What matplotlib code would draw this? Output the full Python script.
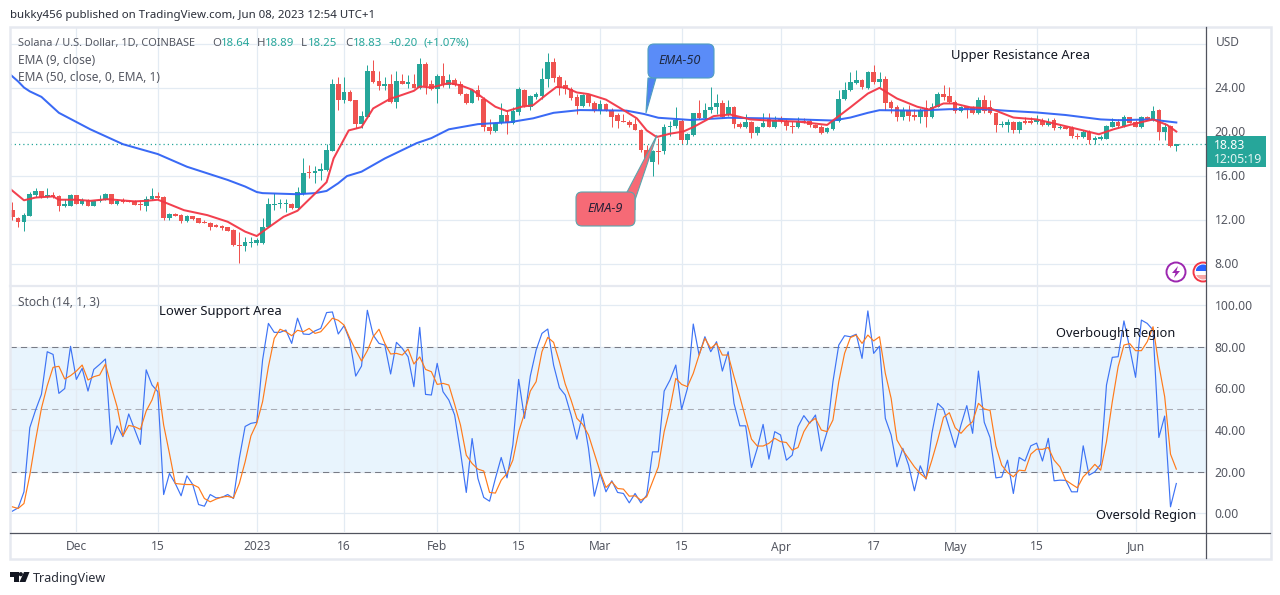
import matplotlib
matplotlib.use('Agg')
import matplotlib.pyplot as plt
from matplotlib.patches import FancyBboxPatch, Polygon, Circle, Rectangle

plt.rcParams['font.family'] = ['Noto Sans', 'DejaVu Sans']

# candles, one per day from 20 Nov 2022 (day 0) to 8 Jun 2023 (day 200)
opens = [12.85,12.18,11.8,12.33,14.2,14.55,14.05,14.2,14.1,13.2,
         13.25,14.2,13.4,13.75,13.25,13.65,13.8,14.3,13.4,13.75,
         13.7,13.7,13.45,13.2,13.9,14.15,14.05,12.1,12.5,12.4,
         11.85,12.3,12.1,11.75,11.7,11.5,11.4,11.3,11.05,9.7,
         9.6,9.9,9.85,9.85,11.3,13.35,13.4,13.4,13.45,13.05,
         14.3,16.25,16.2,16.4,16.5,18.25,24.3,22.85,23.55,22.85,
         20.65,21.35,25.5,24.55,24.15,24.35,22.7,24.55,24.35,24.35,
         23.95,26.1,24.36,23.85,25.03,24.2,24.67,24.3,23.45,22.6,
         23.8,23.0,20.45,20.05,20.75,21.5,20.75,21.8,23.8,22.2,
         23.1,23.2,24.75,26.3,25.0,24.2,23.9,23.1,22.3,23.3,
         22.6,21.85,22.5,22.0,21.5,21.0,20.9,20.65,20.15,18.35,
         17.2,18.2,18.2,20.4,20.5,21.0,19.2,19.7,21.65,21.2,
         21.95,22.2,22.55,21.5,22.2,20.7,20.4,20.9,19.85,20.45,
         21.1,20.45,21.15,21.0,20.5,20.42,21.0,20.95,20.6,20.4,
         19.95,20.25,20.95,23.0,23.75,24.45,24.7,24.0,25.4,24.5,
         24.8,22.65,22.25,21.3,21.95,21.5,21.35,22.1,21.3,22.25,
         23.4,23.2,22.7,21.85,22.25,22.25,21.65,22.85,22.25,21.65,
         20.55,20.55,20.9,20.15,21.0,21.0,20.85,21.0,20.6,21.05,
         20.35,20.4,20.3,19.6,19.5,20.0,19.25,19.35,19.35,20.45,
         20.9,20.5,21.3,20.85,20.4,21.3,21.1,21.95,20.0,20.5,
         18.64]
closes = [12.2,11.76,12.4,14.3,14.55,14.05,14.2,14.05,13.25,13.4,
          14.2,13.4,13.75,13.25,13.65,13.8,14.3,13.4,13.65,13.55,
          13.6,13.3,13.3,13.9,14.15,14.0,12.1,12.5,12.35,11.85,
          12.3,12.05,11.7,11.7,11.35,11.35,11.25,11.0,9.65,9.6,
          9.95,10.0,10.1,11.3,13.4,13.45,13.45,13.5,13.05,14.5,
          16.2,16.2,16.4,16.6,18.3,24.3,22.9,23.55,22.8,20.65,
          21.4,25.5,24.5,24.15,24.35,22.7,24.55,24.35,24.5,23.95,
          26.1,24.15,23.9,25.03,24.36,24.67,24.2,23.4,22.6,23.75,
          23.15,20.42,20.05,20.8,21.5,20.75,21.85,23.85,22.3,23.2,
          23.45,24.8,26.3,24.9,24.0,23.9,23.05,22.3,23.3,22.55,
          21.85,22.5,22.0,21.3,20.95,20.9,20.55,20.15,18.3,17.4,
          18.25,18.15,20.4,20.5,21.05,19.2,19.75,21.65,21.2,21.95,
          22.25,22.6,21.35,22.2,20.65,20.45,20.9,19.85,20.42,20.8,
          20.45,21.05,21.0,20.5,20.4,20.85,20.9,20.6,20.35,19.9,
          20.3,20.95,23.0,23.8,24.5,24.7,24.05,25.4,24.5,24.8,
          22.6,22.1,21.3,21.95,21.45,21.35,21.95,21.3,22.25,23.4,
          23.15,22.65,21.85,22.25,22.05,21.65,22.85,21.85,21.65,20.55,
          20.65,20.9,20.15,20.9,20.8,20.8,21.05,20.6,20.9,20.3,
          20.42,20.25,19.55,19.5,20.0,19.2,19.4,19.5,20.5,20.85,
          20.5,21.3,20.8,20.45,21.3,21.1,21.85,20.0,20.4,18.65,
          18.83]
highs = [13.6,12.24,12.55,14.5,14.9,14.55,14.9,14.5,14.2,13.9,
         14.3,14.2,14.0,13.9,13.8,14.2,14.4,14.3,13.9,14.0,
         13.8,13.8,13.8,14.1,14.9,14.5,14.1,12.6,12.55,12.5,
         12.4,12.35,12.15,12.0,11.75,11.55,11.5,11.35,11.1,10.9,
         10.4,10.4,10.3,12.1,14.0,14.4,13.85,13.9,13.5,15.0,
         17.6,17.0,16.9,17.1,18.85,24.75,25.0,25.0,23.8,22.9,
         21.85,26.05,26.5,25.5,25.0,25.2,25.5,25.25,25.1,25.2,
         26.7,26.3,24.7,25.27,26.2,25.27,24.9,24.6,23.5,23.85,
         24.2,23.1,21.18,20.85,22.6,22.0,22.2,24.05,23.9,23.3,
         23.6,25.75,27.1,26.65,25.1,24.67,24.05,23.45,23.45,23.45,
         22.75,22.85,22.6,22.1,21.7,21.6,21.05,21.2,20.2,18.75,
         18.35,19.4,20.65,21.0,22.2,21.1,19.9,21.7,22.9,22.55,
         24.05,23.4,22.9,22.9,22.3,20.9,21.6,21.0,20.5,21.65,
         21.65,21.4,21.4,21.1,21.0,21.3,21.2,21.1,20.7,20.55,
         20.4,21.0,23.75,24.5,25.4,25.55,24.8,25.5,26.05,25.4,
         25.05,22.9,22.4,22.25,22.4,22.05,22.1,22.9,22.6,23.6,
         24.2,24.05,22.9,22.35,22.3,22.3,23.15,23.3,22.85,21.7,
         21.0,21.1,20.95,21.0,21.3,21.3,21.5,21.2,21.2,21.2,
         20.6,20.5,20.5,19.9,20.1,20.1,19.55,19.65,20.6,21.2,
         21.1,21.5,21.35,21.05,21.4,21.4,22.3,22.05,20.75,20.6,
         18.89]
lows = [12.0,11.33,11.0,12.3,14.05,14.0,14.0,14.0,12.8,13.15,
        13.2,13.4,13.3,13.2,13.2,13.6,13.75,13.4,13.3,13.5,
        13.55,13.3,12.9,12.75,13.8,13.85,12.0,12.0,12.3,11.7,
        11.8,12.0,11.65,11.65,11.05,11.3,11.05,10.95,9.55,8.05,
        9.1,9.5,9.7,9.8,11.3,12.9,13.05,12.7,13.0,13.0,
        14.2,15.8,15.35,15.55,16.4,18.2,21.95,22.6,22.75,20.3,
        20.35,21.3,24.4,23.8,23.8,22.6,22.1,24.3,24.0,23.95,
        23.9,23.4,23.8,22.6,24.05,24.0,24.1,23.3,22.5,22.55,
        22.85,20.05,19.75,20.0,20.7,19.75,20.7,21.5,22.2,22.0,
        23.0,23.0,24.05,24.5,23.3,23.45,22.85,21.6,22.2,22.3,
        21.75,21.6,21.9,20.42,20.3,20.85,20.45,20.1,18.1,17.3,
        16.0,17.05,17.95,19.6,20.3,18.85,18.9,19.6,21.1,21.15,
        21.7,21.6,21.2,21.4,20.3,20.3,20.3,19.4,19.7,20.4,
        20.4,20.3,20.8,20.1,19.9,20.3,20.8,20.45,20.3,19.8,
        19.9,20.1,20.9,22.9,23.7,24.3,23.9,23.85,24.3,24.05,
        22.0,21.65,21.0,21.05,21.0,21.05,20.75,20.4,21.25,22.2,
        22.85,22.6,21.65,21.75,21.2,21.6,21.6,21.65,21.6,20.0,
        20.4,19.95,19.85,19.85,20.7,20.7,20.65,20.5,20.5,20.15,
        20.2,20.2,19.45,19.3,19.4,18.85,18.85,19.2,19.3,20.4,
        20.35,20.45,20.75,20.4,20.3,21.05,21.0,19.2,19.2,18.6,
        18.25]

# moving averages at the days listed
ema50_days = [-0.4,1,2,3,5,8,13.4,19,25,30,37,40,42,43,49,52,54,56,57.5,60,64,69.5,72,75,80,85.5,89.5,93,97.5,105.5,
              108.5,111,116.5,123,129,135,141,144,147,149,155.5,161,167,171,176,181,187,190,195.5,200]
ema50 = [25.2,24.55,24.0,23.65,23.15,21.7,20.2,18.85,17.95,16.8,15.6,15.0,14.5,14.4,14.3,14.4,14.6,15.3,15.95,16.35,17.55,18.95,19.4,20.2,20.67,20.85,21.2,21.7,21.95,21.9,
         21.6,21.25,21.05,21.25,21.2,21.1,21.0,21.27,21.7,21.94,21.9,22.03,22.03,21.88,21.73,21.5,21.1,21.03,21.1,20.82]
ema9_days = [-0.4,2,4,7,8,11,13.4,16.3,21,23,25,26,29.5,33.5,37,40,42,43,46.6,49,52,54,55.2,57.8,60,62,65,66,69,70,
             72,75,77,79,81,83,85,87.5,89.5,92,93.5,95,97,99,102,105,107.3,109,110.7,113,115.3,117,120.5,123.3,126.8,130,135,140,141,
             144,147,149,152,155.5,157.5,160,161.8,164.6,168,172,176,179.5,184,186.7,189.2,192,196,198.4,200]
ema9 = [14.8,13.75,14.0,14.1,13.8,13.8,13.7,13.85,13.65,13.7,13.8,13.6,12.85,12.4,11.8,10.9,10.5,10.9,12.25,12.8,14.35,15.4,17.55,20.1,20.4,22.1,23.0,23.15,23.7,24.1,
        24.0,24.4,24.2,23.8,23.0,22.25,21.85,22.25,22.4,23.45,24.05,24.0,23.55,23.4,22.9,21.95,21.2,20.1,19.5,19.8,20.0,20.4,21.4,21.55,21.1,21.0,20.9,20.6,21.0,
        22.2,23.45,23.97,23.0,22.25,22.0,22.55,22.55,22.2,22.1,21.27,21.1,20.67,20.1,19.75,20.2,20.6,21.1,20.6,20.0]

# stochastic %K and %D, one value per day
stoch_k = [1.1,2.7,10.4,41.2,49.7,57.2,77.7,76.4,57.7,60,
           80.3,64.4,69.7,58.8,69.2,71.6,74.2,33.2,42.1,36.9,
           47.8,40.5,33.2,69,61.7,58.5,9.1,19.2,14.4,8.5,
           18.1,13.9,4.3,3.5,9.1,7.5,7.7,9.1,7.2,26.4,
           41.8,43.3,43.8,73.7,91.3,87,87,88.1,81.7,93.8,
           86.2,86,87.7,88.9,96.5,96.8,86.2,90.2,83,66,
           70.8,97.6,85.7,81.7,80.9,67,82.2,79.3,75.3,60.9,
           89.4,57.2,56.9,72.1,58.5,54.5,47.3,29.6,10.1,36,
           16.8,7.7,5.9,16.8,26.9,17.1,32.9,64.4,45.7,66,
           78.5,86.5,88.6,71.3,60.4,56.9,47.3,35.7,47.8,31.3,
           8.3,19.2,10.4,15.7,10.1,9.6,5.1,9.6,5.1,8.8,
           29.6,29.6,58.8,64.1,71.3,50,60.1,91,76.1,84.9,
           77.7,82.5,68.4,77.7,52.9,42.1,42.1,22.1,31.3,42.8,
           26.1,39.3,37.7,25.6,28,41.7,47,43.3,47.3,30,
           39.3,63.3,80.9,85.4,84.9,86.1,74.5,97.3,76.9,80.4,
           45.7,37.7,22.4,31.3,23.2,10.9,22.9,16.5,38.5,52.9,
           50.2,40.9,31.7,42.5,51.8,38.5,68.4,43.8,36.4,17.1,
           17.5,25.6,9.6,26.9,25.2,32.5,33.8,25.2,36.1,15.7,
           16,15.9,10.4,10.4,32.5,18.4,20,23.6,61.7,75,
           75.3,92.5,79.3,65.4,92.9,91.3,88.1,36.5,46.8,3.2,
           14.4]
stoch_d = [3.2,2.4,4.8,18.4,35.3,50.5,61.4,70.2,70.7,64.6,
           66.2,68.4,71.3,64.1,65.7,66.5,71.8,60.9,51.3,37.3,
           42.3,41.7,40.4,49.2,54.5,63,42.5,28.8,14.4,14.1,
           13.9,13.9,12.5,7.2,5.6,6.9,7.9,8.2,7.5,14.4,
           24.8,37.3,43.3,53.7,70.5,84.1,88.5,87.3,85.4,88,
           87.3,88.9,86.5,87.3,90.5,93.8,92.8,90.5,84.1,78.5,
           73.2,78.2,84.9,88.5,81.7,76.6,76.9,76.1,79,71.8,
           75.2,69.2,68.1,62,62.5,61.7,52.4,42.5,28,24,
           21.3,20.4,10.1,9.8,16,19.2,25.6,39.3,48,58.8,
           63.3,77.7,84.6,82.2,72.9,62.2,54.5,45.7,42.8,37.7,
           28.8,20,12.5,15.2,12,11.7,8.3,8.5,6.4,8,
           15.2,22.4,39.3,50.5,64.9,62,60.9,67.3,76.1,84.1,
           79.3,81.7,76.1,76.1,65.7,56.1,45.7,35.7,32.4,32.4,
           33.7,36.1,34.5,34.1,30.4,31.7,39.3,43.8,45.7,40.1,
           39.3,44.9,63.3,76.9,84.5,85.7,81.7,85.7,82.9,84.9,
           67.3,55.3,35.3,30.4,26.4,22.4,19.2,16.8,25.6,35.3,
           46.2,48.4,41.2,38.5,41.7,44.1,52.9,50.2,49.5,32.4,
           23.2,19.7,17.6,20.8,20.5,28.5,30.9,30.8,31.7,25.6,
           22.4,16,14.1,12.3,17.6,20.4,23.6,20.8,34.5,53.7,
           70.5,80.9,81.6,78.2,78.2,82.5,89.7,71.3,56.1,28.5,
           21.3]

tick_days = [11, 25, 42, 57, 73, 87, 101, 115, 132, 148, 162, 176, 193]
tick_labels = ['Dec', '15', '2023', '16', 'Feb', '15', 'Mar', '15', 'Apr', '17', 'May', '15', 'Jun']
price_ticks = [8, 12, 16, 20, 24, 28]
price_labels = ['8.00', '12.00', '16.00', '20.00', '24.00']
stoch_ticks = [0, 20, 40, 60, 80, 100]
stoch_labels = ['0.00', '20.00', '40.00', '60.00', '80.00', '100.00']
last_close = 18.83

GREEN = '#26a69a'
RED = '#ef5350'
GRID = '#e3ebf3'
FRAME = '#e6e9f0'
TEXT = '#555862'

fig = plt.figure(figsize=(12.8, 5.95), dpi=100)
W, H = 1280.0, 595.0


def make_axes(x0, y0, x1, y1):
    a = fig.add_axes([x0 / W, 1 - y1 / H, (x1 - x0) / W, (y1 - y0) / H])
    for s in a.spines.values():
        s.set_visible(False)
    a.set_xticks([])
    a.set_yticks([])
    return a


# day 0 sits at pixel 12.3 and a day is 5.82 px wide
xlim = (-0.4, 205.1)

ax = make_axes(10, 27, 1206, 285)
ax.set_xlim(xlim)
ax.set_ylim(6.05, 29.5)
for t in tick_days:
    ax.axvline(t, color=GRID, lw=0.9, zorder=1)
for t in price_ticks:
    ax.axhline(t, color=GRID, lw=0.9, zorder=1)

days = list(range(len(opens)))
colors = [GREEN if c >= o else RED for o, c in zip(opens, closes)]
ax.vlines(days, lows, highs, colors=colors, lw=0.72, zorder=2)
bottoms = [min(o, c) for o, c in zip(opens, closes)]
heights = [max(abs(c - o), 0.08) for o, c in zip(opens, closes)]
ax.bar(days, heights, bottom=bottoms, width=0.8, color=colors, lw=0, zorder=3)
ax.plot(ema50_days, ema50, color='#2f62f5', lw=1.45, alpha=0.95, zorder=4)
ax.plot(ema9_days, ema9, color='#f23645', lw=1.45, alpha=0.95, zorder=5)
ax.axhline(last_close, color=GREEN, lw=0.9, ls=(0, (1, 2.4)), zorder=2)

ax2 = make_axes(10, 285, 1206, 532)
ax2.set_xlim(xlim)
ax2.set_ylim(-8.9, 109.75)
ax2.axhspan(20, 80, color='#2196f3', alpha=0.1, lw=0, zorder=0)
for t in tick_days:
    ax2.axvline(t, color=GRID, lw=0.9, zorder=1)
for t in stoch_ticks:
    ax2.axhline(t, color=GRID, lw=0.9, zorder=1)
ax2.axhline(80, color='#787b86', lw=0.75, ls=(0, (6, 4)), zorder=2)
ax2.axhline(50, color='#a9acb5', lw=0.75, ls=(0, (6, 4)), zorder=2)
ax2.axhline(20, color='#787b86', lw=0.75, ls=(0, (6, 4)), zorder=2)
ax2.plot(days, stoch_k, color='#3d73f5', lw=0.85, zorder=3)
ax2.plot(days, stoch_d, color='#ff7a1a', lw=0.85, zorder=4)

# everything else is laid out in picture pixels on a transparent overlay
ov = fig.add_axes([0, 0, 1, 1], facecolor='none', zorder=10)
ov.set_xlim(0, W)
ov.set_ylim(H, 0)
ov.axis('off')

# frame and scale lines
ov.add_patch(Rectangle((9.5, 26.5), 1261, 532.5, fill=False, ec=FRAME, lw=1.8))
ov.plot([10, 1270], [285.5, 285.5], color=FRAME, lw=1.6)
ov.plot([10, 1270], [532.7, 532.7], color='#50535e', lw=0.9)
ov.plot([1206.3, 1206.3], [27, 558], color='#50535e', lw=0.9)


def label(x, y, s, color=TEXT, size=8.6, **kw):
    kw.setdefault('ha', 'left')
    ov.text(x, y + 1.2, s, color=color, fontsize=size, va='center', **kw)


label(10, 14, 'bukky456 published on TradingView.com, Jun 08, 2023 12:54 UTC+1', color='#2a2e39', size=8.25)
label(18, 42, 'Solana / U.S. Dollar, 1D, COINBASE', size=7.9)
for x, s, c in [(212, 'O', TEXT), (221, '18.64', GREEN), (257, 'H', TEXT), (265, '18.89', GREEN),
                (301, 'L', TEXT), (308, '18.25', GREEN), (345, 'C', TEXT), (353, '18.83', GREEN),
                (388, '+0.20', GREEN), (423, '(+1.07%)', GREEN)]:
    label(x, 42, s, color=c, size=8.2)
label(18, 59, 'EMA (9, close)')
label(18, 76, 'EMA (50, close, 0, EMA, 1)')
label(18, 301, 'Stoch (14, 1, 3)')

label(951, 54, 'Upper Resistance Area', color='#131722', size=9.4)
label(159, 310, 'Lower Support Area', color='#131722', size=9.4)
label(1056, 332, 'Overbought Region', color='#131722', size=9.25)
label(1096, 514, 'Oversold Region', color='#131722', size=9.25)

# right scale
label(1216, 41, 'USD')
for t, s in zip(price_ticks, price_labels):
    label(1214.5, 87.5 + (24 - t) * 11, s, size=8.8)
for t, s in zip(stoch_ticks, stoch_labels):
    label(1214.5, 513.5 - t * 2.083, s, size=8.8)

# last price tag
ov.add_patch(Rectangle((1206, 136), 60, 31, fc=GREEN, ec='none'))
label(1214, 144.5, '18.83', color='white', size=8.8, fontweight='bold')
label(1214, 158, '12:05:19', color='#e4f5f3', size=8.8)

# x labels
for t, s in zip(tick_days, tick_labels):
    ov.text(12.3 + 5.82 * t, 547, s, color=TEXT, fontsize=8.6, ha='center', va='center',
            fontweight='bold' if s == '2023' else 'normal')

# callouts
ov.add_patch(Polygon([(648, 78), (646, 113), (656, 78)], fc='#4f82f2', ec='#4f9ec0', lw=0.8, zorder=3))
ov.add_patch(FancyBboxPatch((652, 48), 58, 26, boxstyle='round,pad=4,rounding_size=6',
                            fc='#5a8cf8', ec='#4f9ec0', lw=0.8, zorder=4))
ov.text(680, 60.5, 'EMA-50', color='#1f2a44', fontsize=9.2, style='italic', ha='center', va='center', zorder=5)
ov.add_patch(Polygon([(626, 194), (657, 135), (635, 200), (635, 210)], fc='#f66a76', ec='#5aa5ad', lw=0.8, zorder=3))
ov.add_patch(FancyBboxPatch((580, 196), 51, 26, boxstyle='round,pad=4,rounding_size=6',
                            fc='#f66a76', ec='#5aa5ad', lw=0.8, zorder=4))
ov.text(605, 208.5, 'EMA-9', color='#2a2038', fontsize=9.2, style='italic', ha='center', va='center', zorder=5)

# little icons at the lower right of the price pane
ov.add_patch(Circle((1176, 272), 9.5, fc='white', ec='#9c27b0', lw=1.4))
ov.add_patch(Polygon([(1178, 266), (1172, 273), (1175.5, 273), (1174, 278), (1180, 271), (1176.5, 271)],
                     fc='#9c27b0', ec='none'))
clip = Rectangle((1190, 260), 16, 26, transform=ov.transData)
ring = Circle((1203, 272), 9.5, fc='white', ec='#f23645', lw=1.4)
ov.add_patch(ring)
ring.set_clip_path(clip)
stripe = Rectangle((1196, 264), 10, 7, fc='#2962ff', ec='none')
ov.add_patch(stripe)
stripe.set_clip_path(Circle((1203, 272), 7.5, transform=ov.transData))
stripe2 = Rectangle((1196, 275), 10, 6, fc='#f7a6a6', ec='none')
ov.add_patch(stripe2)
stripe2.set_clip_path(Circle((1203, 272), 7.5, transform=ov.transData))

# logo
ov.add_patch(Polygon([(10, 572), (19, 572), (19, 582), (14, 582), (14, 576.5), (10, 576.5)], fc='#131722', ec='none'))
ov.add_patch(Circle((20.8, 574.2), 2.1, fc='#131722', ec='none'))
ov.add_patch(Polygon([(24, 572), (29.5, 572), (25.5, 582), (19.5, 582)], fc='#131722', ec='none'))
label(33, 577, 'TradingView', color='#2a2e39', size=9)

fig.savefig('out.png', dpi=100)
